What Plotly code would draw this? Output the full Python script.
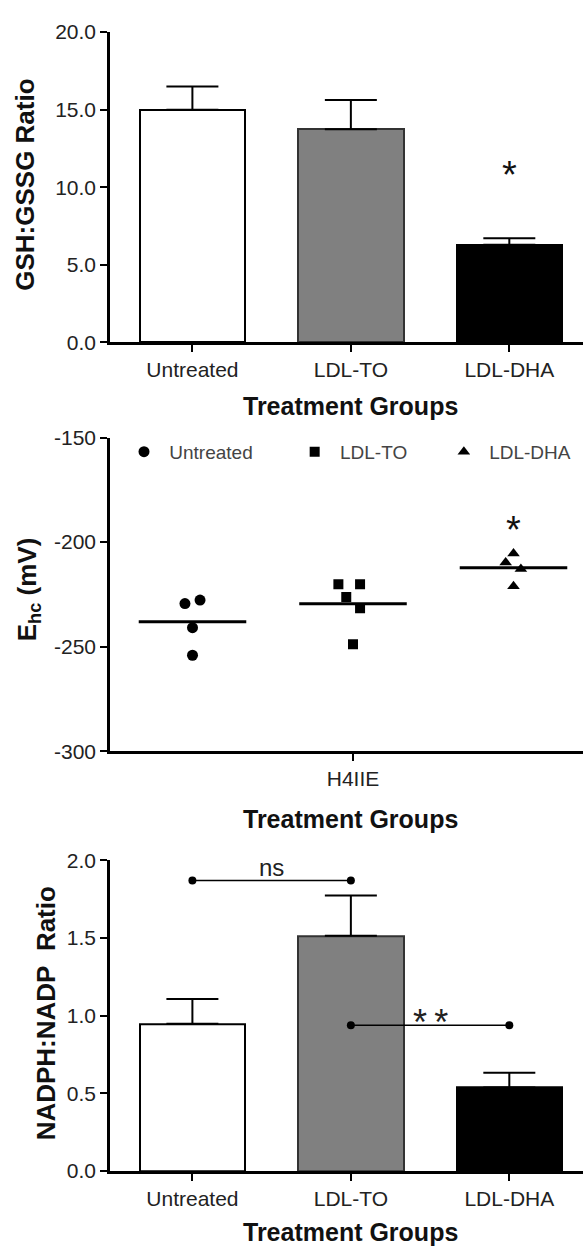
import plotly.graph_objects as go
import numpy as np

# ---------------- data ----------------
categories = ["Untreated", "LDL-TO", "LDL-DHA"]
gsh_ratio = [15.0, 13.73, 6.29]
gsh_sem = [1.5, 1.9, 0.42]

nadph_ratio = [0.947, 1.514, 0.537]
nadph_sem = [0.16, 0.259, 0.095]

ehc_untreated = [-229.4, -227.7, -240.9, -254.1]
ehc_ldl_to = [-220.2, -220.2, -226.3, -231.6, -248.9]
ehc_ldl_dha = [-205.5, -209.7, -212.8, -221.1]
# horizontal scatter offsets of the points within each group
jit_untreated = [-0.047, 0.047, 0.0, 0.0]
jit_ldl_to = [-0.091, 0.044, -0.042, 0.044, 0.0]
jit_ldl_dha = [0.0, -0.049, 0.046, 0.0]

gsh_ticks = [0, 5, 10, 15, 20]
ehc_ticks = [-300, -250, -200, -150]
ehc_ticklabels = ["-300", "-250", "-200", "-150"]
nadph_ticks = [0, 0.5, 1.0, 1.5, 2.0]

# ---------------- styling ----------------
W, H = 583, 1257
FONT = "Liberation Sans, Arial, sans-serif"
BAR_COLORS = ["#ffffff", "#808080", "#000000"]
BAR_LINES = ["#000000", "#333333", "#000000"]
NB = "\u00a0"


def py(p):
    return 1 - p / H


fig = go.Figure()

# ---- panel 1: GSH:GSSG bars ----
fig.add_trace(go.Bar(
    x=categories, y=gsh_ratio, width=0.666,
    marker=dict(color=BAR_COLORS, line=dict(color=BAR_LINES, width=2)),
    error_y=dict(type="data", symmetric=False, array=gsh_sem,
                 arrayminus=[0] * 3, color="black", thickness=2, width=26),
    xaxis="x", yaxis="y", showlegend=False,
))

# ---- panel 2: Ehc scatter ----
groups = [
    ("Untreated", ehc_untreated, jit_untreated, "circle", 11),
    ("LDL-TO", ehc_ldl_to, jit_ldl_to, "square", 10),
    ("LDL-DHA", ehc_ldl_dha, jit_ldl_dha, "triangle-up", 11),
]
group_pos = [-1, 0, 1]
legend_pad = [(1, 7), (1, 6), (1, 0)]
for (name, vals, jit, sym, sz), gp, (pre, post) in zip(groups, group_pos, legend_pad):
    fig.add_trace(go.Scatter(
        x=[gp + j for j in jit], y=vals, mode="markers",
        name=NB * pre + name + NB * post,
        marker=dict(symbol=sym, size=sz, color="black"),
        xaxis="x2", yaxis="y2", showlegend=True,
    ))
    m = float(np.mean(vals))
    fig.add_trace(go.Scatter(
        x=[gp - 0.335, gp + 0.335], y=[m, m], mode="lines",
        line=dict(color="black", width=3),
        xaxis="x2", yaxis="y2", showlegend=False, hoverinfo="skip",
    ))

# ---- panel 3: NADPH:NADP bars ----
fig.add_trace(go.Bar(
    x=categories, y=nadph_ratio, width=0.666,
    marker=dict(color=BAR_COLORS, line=dict(color=BAR_LINES, width=2)),
    error_y=dict(type="data", symmetric=False, array=nadph_sem,
                 arrayminus=[0] * 3, color="black", thickness=2, width=26),
    xaxis="x3", yaxis="y3", showlegend=False,
))
# significance brackets
fig.add_trace(go.Scatter(
    x=[categories[0], categories[1]], y=[1.869, 1.869], mode="lines+markers",
    line=dict(color="black", width=1.5), marker=dict(size=8, color="black"),
    xaxis="x3", yaxis="y3", showlegend=False,
))
fig.add_trace(go.Scatter(
    x=[categories[1], categories[2]], y=[0.937, 0.937], mode="lines+markers",
    line=dict(color="black", width=1.5), marker=dict(size=8, color="black"),
    xaxis="x3", yaxis="y3", showlegend=False,
))

# ---------------- axes ----------------
xdom = [110 / W, 1.0]
axis_common = dict(showline=True, linewidth=2.5, linecolor="black",
                   ticks="outside", tickwidth=2, tickcolor="black",
                   showgrid=False, zeroline=False,
                   tickfont=dict(family=FONT, size=21, color="#222222"))

fig.update_layout(
    width=W, height=H,
    margin=dict(l=0, r=0, t=0, b=0),
    paper_bgcolor="white", plot_bgcolor="white",
    font=dict(family=FONT, color="#222222"),
    bargap=0,
    xaxis=dict(domain=xdom, anchor="y", range=[-0.52, 2.465], ticklen=7,
               type="category", **axis_common),
    yaxis=dict(domain=[py(336.5), py(20.5)], anchor="x", range=[0, 20],
               tickvals=gsh_ticks, tickformat=".1f", ticklen=7, **axis_common),
    xaxis2=dict(domain=xdom, anchor="y2", range=[-1.514, 1.433], ticklen=7,
                tickvals=[0], ticktext=["H4IIE"], **axis_common),
    yaxis2=dict(domain=[py(753), py(433.5)], anchor="x2", range=[-300, -150],
                tickvals=ehc_ticks, ticktext=ehc_ticklabels, ticklen=7,
                **axis_common),
    xaxis3=dict(domain=xdom, anchor="y3", range=[-0.52, 2.465], ticklen=7,
                type="category", **axis_common),
    yaxis3=dict(domain=[py(1180.5), py(864)], anchor="x3", range=[0, 2],
                tickvals=nadph_ticks, tickformat=".1f", ticklen=7,
                **axis_common),
    legend=dict(orientation="h", x=124 / W, y=py(448), xanchor="left",
                yanchor="middle", font=dict(family=FONT, size=19, color="#444444"),
                bgcolor="rgba(0,0,0,0)", itemclick=False, itemdoubleclick=False),
)

title_font = dict(family=FONT, size=25, color="#111111")
ytitle_font = dict(family=FONT, size=26, color="#111111")
AST = 38
annotations = [
    # x titles
    dict(text="<b>Treatment Groups</b>", x=350 / W, y=py(401), xref="paper",
         yref="paper", showarrow=False, font=title_font, xanchor="center",
         yanchor="middle"),
    dict(text="<b>Treatment Groups</b>", x=351 / W, y=py(822), xref="paper",
         yref="paper", showarrow=False, font=title_font, xanchor="center",
         yanchor="middle"),
    dict(text="<b>Treatment Groups</b>", x=351 / W, y=py(1243), xref="paper",
         yref="paper", showarrow=False, font=title_font, xanchor="center",
         yanchor="middle"),
    # y titles
    dict(text="<b>GSH:GSSG Ratio</b>", x=25 / W, y=py(176), xref="paper",
         yref="paper", showarrow=False, font=ytitle_font, textangle=-90,
         xanchor="center", yanchor="middle"),
    dict(text="<b>E<sub>hc</sub> (mV)</b>", x=28 / W, y=py(588), xref="paper",
         yref="paper", showarrow=False, font=ytitle_font, textangle=-90,
         xanchor="center", yanchor="middle"),
    dict(text="<b>NADPH:NADP" + NB + NB + "Ratio</b>", x=46 / W, y=py(1020),
         xref="paper", yref="paper", showarrow=False, font=ytitle_font,
         textangle=-90, xanchor="center", yanchor="middle"),
    # significance marks
    dict(text="*", x=categories[2], y=11.49, xref="x", yref="y",
         showarrow=False, font=dict(family=FONT, size=AST, color="#111111"),
         yshift=-0.28 * AST),
    dict(text="*", x=1, y=-189, xref="x2", yref="y2",
         showarrow=False, font=dict(family=FONT, size=AST, color="#111111"),
         yshift=-0.28 * AST),
    dict(text="ns", x=0.5, y=1.951, xref="x3", yref="y3",
         showarrow=False, font=dict(family=FONT, size=24, color="#222222")),
    dict(text="*\u2009*", x=1.5, y=1.019, xref="x3", yref="y3",
         showarrow=False, font=dict(family=FONT, size=36, color="#222222"),
         yshift=-0.28 * 36),
]
fig.update_layout(annotations=annotations)

fig.write_html("out.html", config={"displayModeBar": False},
               post_script="document.body.style.margin='0';")
